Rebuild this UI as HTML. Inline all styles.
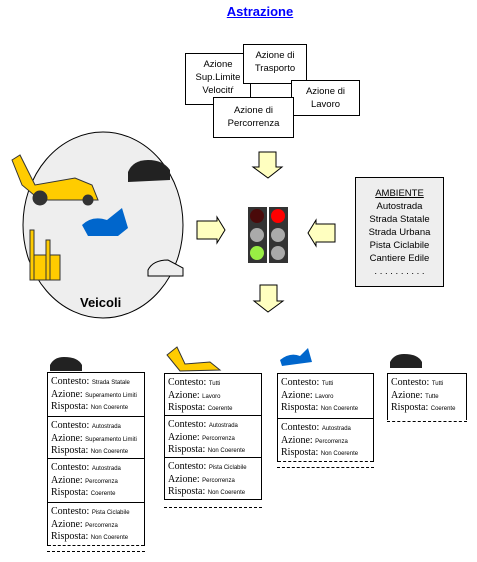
<!DOCTYPE html>
<html><head><style>
body{margin:0;width:477px;height:562px;background:#fff;position:relative;overflow:hidden;font-family:"Liberation Sans",sans-serif}
.a{position:absolute}
.bx{position:absolute;background:#fff;border:1px solid #000;font-size:9.5px;text-align:center;line-height:13px;box-sizing:border-box}
.card{position:absolute;border-left:1px solid #000;border-right:1px solid #000;border-top:1px solid #000;box-sizing:border-box}
.row{border-bottom:1px solid #000;font-family:"Liberation Serif",serif;font-size:10px;padding:3px 0 0 3px;box-sizing:border-box;white-space:nowrap;overflow:hidden}
.row div{height:12.5px;line-height:12px}
.row small{font-size:6px;font-family:"Liberation Sans",sans-serif;vertical-align:baseline}
.dash{position:absolute;border-top:1px dashed #000;height:0}
</style></head><body>
<div class="a" style="left:0;width:520px;top:4px;text-align:center;font-weight:bold;font-size:13px;color:#00f;text-decoration:underline">Astrazione</div>
<svg class="a" style="left:0;top:0" width="477" height="562">
<ellipse cx="103" cy="225" rx="80" ry="93" fill="#eee" stroke="#000"/>
<g fill="#ffffc0" stroke="#000">
<polygon points="259,152 276,152 276,167 282,167 268,178 253,167 259,167"/>
<polygon points="260,285 277,285 277,301 283,301 268,312 254,301 260,301"/>
<polygon points="197,221 217,221 217,217 225,230 217,243 217,239 197,239"/>
<polygon points="335,224 316,224 316,220 308,233 316,246 316,242 335,242"/>
</g>
<rect x="248" y="207" width="19" height="56" fill="#333"/><rect x="269" y="207" width="19" height="56" fill="#333"/>
<circle cx="257" cy="216" r="7" fill="#4a0a0a"/><circle cx="278" cy="216" r="7" fill="#f00"/>
<circle cx="257" cy="235" r="7" fill="#aaa"/><circle cx="278" cy="235" r="7" fill="#aaa"/>
<circle cx="257" cy="253" r="7" fill="#9e4"/><circle cx="278" cy="253" r="7" fill="#aaa"/>
<g fill="#fc0" stroke="#333"><polygon points="12,160 20,155 35,185 75,178 92,185 98,200 40,200 22,185"/><circle cx="40" cy="198" r="7" fill="#333"/><circle cx="88" cy="200" r="5" fill="#333"/>
<rect x="30" y="255" width="30" height="25"/><rect x="30" y="230" width="4" height="50"/><rect x="46" y="240" width="4" height="40"/></g>
<g fill="#222"><path d="M128,172 q5,-12 20,-12 q15,0 22,10 l0,10 l-42,2z"/><path d="M148,270 q5,-10 20,-10 l15,8 l0,8 l-35,0z" fill="#eee" stroke="#000"/>
<path d="M50,365 q4,-8 14,-8 q14,0 18,8 l0,6 l-32,0z"/><path d="M390,362 q4,-8 14,-8 q14,0 18,8 l0,6 l-32,0z"/></g>
<g fill="#06c"><path d="M82,225 q10,-10 25,-5 l15,-12 l6,20 l-10,8 l-30,0z"/><path d="M280,360 q10,-8 20,-4 l8,-8 l4,14 l-30,4z"/></g>
<g fill="#fc0" stroke="#333"><path d="M167,355 l10,-8 l8,17 l25,-2 l10,8 l-40,1z"/></g>
</svg>
<div class="bx" style="left:185px;top:53px;width:66px;height:52px;padding-top:4px">Azione<br>Sup.Limite<br>Velocitŕ</div>
<div class="bx" style="left:243px;top:44px;width:64px;height:40px;padding-top:4px">Azione di<br>Trasporto</div>
<div class="bx" style="left:291px;top:80px;width:69px;height:36px;padding-top:4px">Azione di<br>Lavoro</div>
<div class="bx" style="left:213px;top:97px;width:81px;height:41px;padding-top:6px">Azione di<br>Percorrenza</div>
<div class="bx" style="left:355px;top:177px;width:89px;height:110px;background:#eee;padding-top:9px"><u>AMBIENTE</u><br>Autostrada<br>Strada Statale<br>Strada Urbana<br>Pista Ciclabile<br>Cantiere Edile<br>. . . . . . . . . .</div>
<div class="a" style="left:80px;top:295px;font-weight:bold;font-size:13px">Veicoli</div>

<div class="card" style="left:47px;top:372px;width:98px">
<div class="row" style="height:44px"><div>Contesto: <small>Strada Statale</small></div><div>Azione: <small>Superamento Limiti</small></div><div>Risposta: <small>Non Coerente</small></div></div>
<div class="row" style="height:42px"><div>Contesto: <small>Autostrada</small></div><div>Azione: <small>Superamento Limiti</small></div><div>Risposta: <small>Non Coerente</small></div></div>
<div class="row" style="height:44px"><div>Contesto: <small>Autostrada</small></div><div>Azione: <small>Percorrenza</small></div><div>Risposta: <small>Coerente</small></div></div>
<div class="row" style="height:43px;border-bottom:1px dashed #000"><div>Contesto: <small>Pista Ciclabile</small></div><div>Azione: <small>Percorrenza</small></div><div>Risposta: <small>Non Coerente</small></div></div>
</div>
<div class="dash" style="left:47px;top:551px;width:98px"></div>

<div class="card" style="left:164px;top:373px;width:98px">
<div class="row" style="height:42px"><div>Contesto: <small>Tutti</small></div><div>Azione: <small>Lavoro</small></div><div>Risposta: <small>Coerente</small></div></div>
<div class="row" style="height:42px"><div>Contesto: <small>Autostrada</small></div><div>Azione: <small>Percorrenza</small></div><div>Risposta: <small>Non Coerente</small></div></div>
<div class="row" style="height:42px"><div>Contesto: <small>Pista Ciclabile</small></div><div>Azione: <small>Percorrenza</small></div><div>Risposta: <small>Non Coerente</small></div></div>
</div>
<div class="dash" style="left:164px;top:507px;width:98px"></div>

<div class="card" style="left:277px;top:373px;width:97px">
<div class="row" style="height:45px"><div>Contesto: <small>Tutti</small></div><div>Azione: <small>Lavoro</small></div><div>Risposta: <small>Non Coerente</small></div></div>
<div class="row" style="height:43px;border-bottom:1px dashed #000"><div>Contesto: <small>Autostrada</small></div><div>Azione: <small>Percorrenza</small></div><div>Risposta: <small>Non Coerente</small></div></div>
</div>
<div class="dash" style="left:277px;top:467px;width:97px"></div>

<div class="card" style="left:387px;top:373px;width:80px">
<div class="row" style="height:46px;border-bottom:none"><div>Contesto: <small>Tutti</small></div><div>Azione: <small>Tutte</small></div><div>Risposta: <small>Coerente</small></div></div>
</div>
<div class="dash" style="left:387px;top:421px;width:80px"></div>
</body></html>
